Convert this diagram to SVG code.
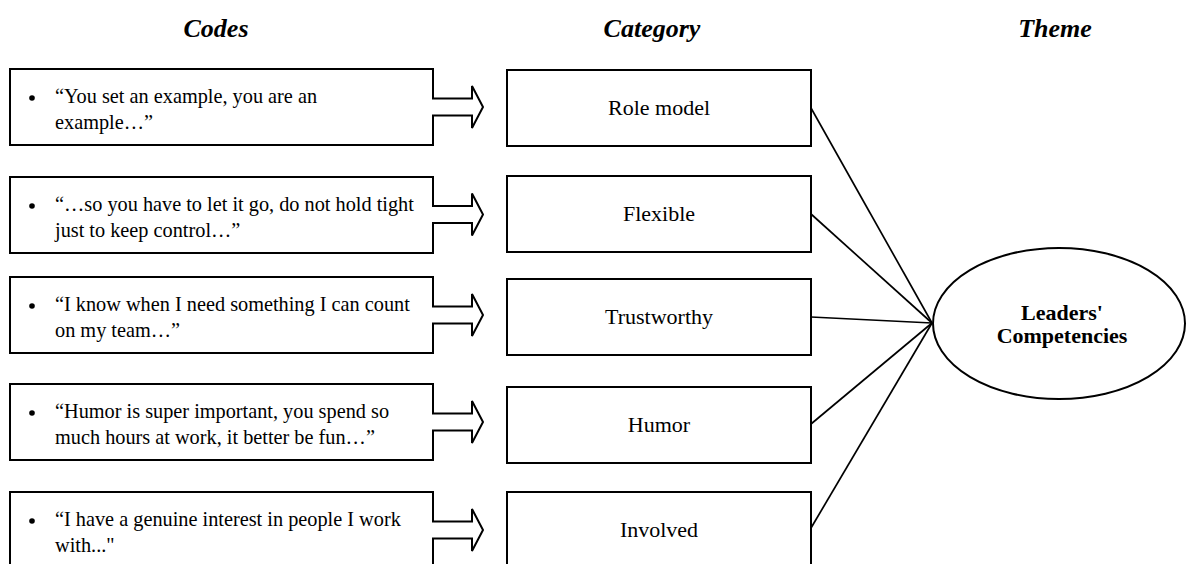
<svg xmlns="http://www.w3.org/2000/svg" width="1186" height="564" viewBox="0 0 1186 564">
  <style>
    .hdr { font-family: "Liberation Serif", "Times New Roman", serif; font-size: 26px; font-weight: bold; font-style: italic; fill: #000; text-anchor: middle; }
    .code { font-family: "Liberation Serif", "Times New Roman", serif; font-size: 20.3px; fill: #000; }
    .cat { font-family: "Liberation Serif", "Times New Roman", serif; font-size: 22px; fill: #000; text-anchor: middle; }
    .theme { font-family: "Liberation Serif", "Times New Roman", serif; font-size: 22px; font-weight: bold; fill: #000; text-anchor: middle; }
    .box { fill: #fff; stroke: #000; stroke-width: 2; stroke-linejoin: miter; }
    .link { stroke: #000; stroke-width: 1.7; fill: none; }
    .dot { fill: #000; }
  </style>

  <rect x="0" y="0" width="1186" height="564" fill="#fff"/>

  <!-- column headers -->
  <g id="headers">
    <text class="hdr" x="216" y="37">Codes</text>
    <text class="hdr" x="652" y="37">Category</text>
    <text class="hdr" x="1055" y="37">Theme</text>
  </g>

  <!-- connectors from categories to the theme -->
  <g id="connectors">
    <line class="link" x1="811" y1="108" x2="932" y2="323"/>
    <line class="link" x1="811" y1="214" x2="932" y2="323"/>
    <line class="link" x1="811" y1="317" x2="932" y2="323"/>
    <line class="link" x1="811" y1="424" x2="932" y2="323"/>
    <line class="link" x1="811" y1="528" x2="932" y2="323"/>
  </g>

  <!-- code boxes: box outline merged with a block arrow on the right -->
  <g id="code-1">
    <path class="box" d="M10,69 H433 V98.5 H472 V86 L483,107 L472,128 V115.5 H433 V145 H10 Z"/>
    <circle class="dot" cx="32" cy="98" r="2.8"/>
    <text class="code" x="55" y="103">“You set an example, you are an</text>
    <text class="code" x="55" y="129">example…”</text>
  </g>
  <g id="code-2">
    <path class="box" d="M10,177 H433 V206 H472 V193.5 L483,214.5 L472,235.5 V223 H433 V253 H10 Z"/>
    <circle class="dot" cx="32" cy="206" r="2.8"/>
    <text class="code" x="55" y="211">“…so you have to let it go, do not hold tight</text>
    <text class="code" x="55" y="237">just to keep control…”</text>
  </g>
  <g id="code-3">
    <path class="box" d="M10,277 H433 V306.5 H472 V294 L483,315 L472,336 V323.5 H433 V353 H10 Z"/>
    <circle class="dot" cx="32" cy="306" r="2.8"/>
    <text class="code" x="55" y="311">“I know when I need something I can count</text>
    <text class="code" x="55" y="337">on my team…”</text>
  </g>
  <g id="code-4">
    <path class="box" d="M10,384 H433 V413.5 H472 V401 L483,422 L472,443 V430.5 H433 V460 H10 Z"/>
    <circle class="dot" cx="32" cy="413" r="2.8"/>
    <text class="code" x="55" y="418">“Humor is super important, you spend so</text>
    <text class="code" x="55" y="444">much hours at work, it better be fun…”</text>
  </g>
  <g id="code-5">
    <path class="box" d="M10,492 H433 V521.5 H472 V509 L483,530 L472,551 V538.5 H433 V568 H10 Z"/>
    <circle class="dot" cx="32" cy="521" r="2.8"/>
    <text class="code" x="55" y="526">“I have a genuine interest in people I work</text>
    <text class="code" x="55" y="552">with..."</text>
  </g>

  <!-- category boxes -->
  <g id="cat-role-model">
    <rect class="box" x="507" y="70" width="304" height="76"/>
    <text class="cat" x="659" y="115">Role model</text>
  </g>
  <g id="cat-flexible">
    <rect class="box" x="507" y="176" width="304" height="76"/>
    <text class="cat" x="659" y="221">Flexible</text>
  </g>
  <g id="cat-trustworthy">
    <rect class="box" x="507" y="279" width="304" height="76"/>
    <text class="cat" x="659" y="324">Trustworthy</text>
  </g>
  <g id="cat-humor">
    <rect class="box" x="507" y="387" width="304" height="76"/>
    <text class="cat" x="659" y="432">Humor</text>
  </g>
  <g id="cat-involved">
    <rect class="box" x="507" y="492" width="304" height="76"/>
    <text class="cat" x="659" y="537">Involved</text>
  </g>

  <!-- theme -->
  <g id="theme-leaders-competencies">
    <ellipse class="box" cx="1059" cy="323.5" rx="126" ry="75.5"/>
    <text class="theme" x="1062" y="320">Leaders'</text>
    <text class="theme" x="1062" y="343">Competencies</text>
  </g>
</svg>
